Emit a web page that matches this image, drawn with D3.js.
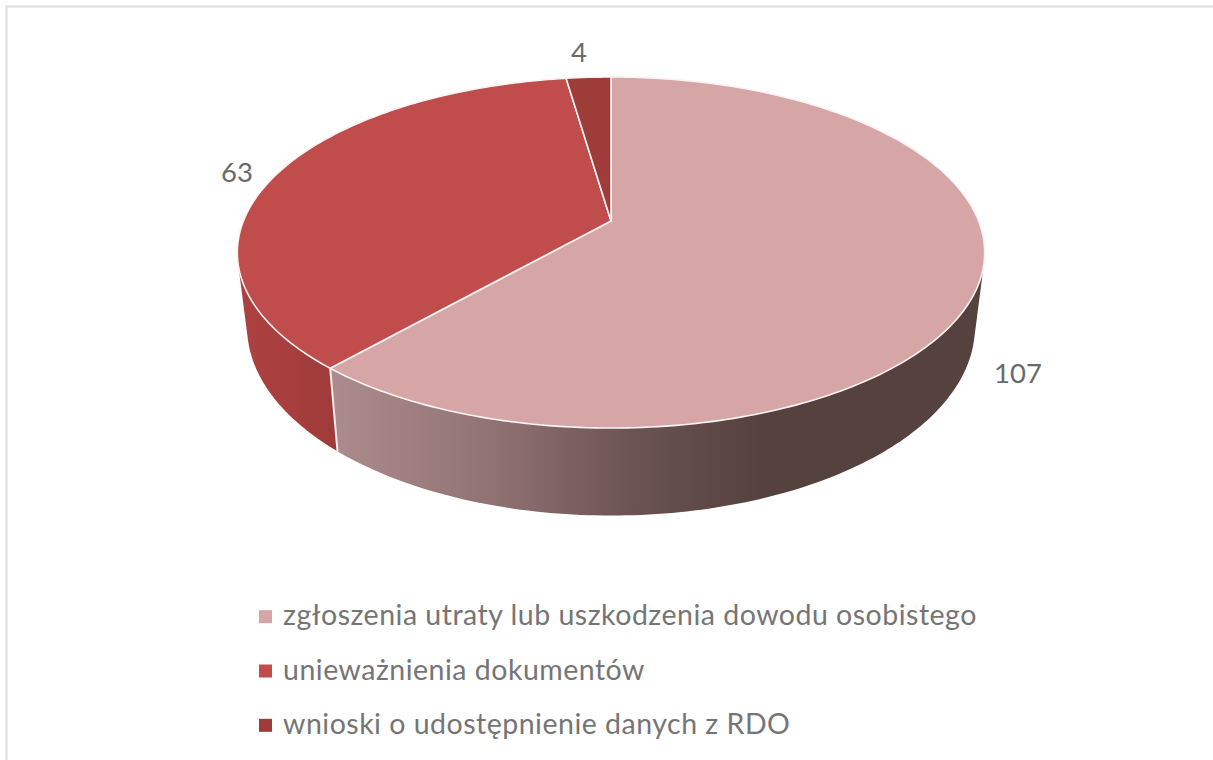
<!DOCTYPE html>
<html><head><meta charset="utf-8">
<script src="https://cdn.jsdelivr.net/npm/d3@7"></script>
<style>html,body{margin:0;padding:0;background:#fff;overflow:hidden}svg{display:block}</style>
</head><body><svg id="c" width="1213" height="760"></svg>
<script>
const categories = ["zgłoszenia utraty lub uszkodzenia dowodu osobistego","unieważnienia dokumentów","wnioski o udostępnienie danych z RDO"];
const values = [107, 63, 4];
const topColors = ["#d6a6a6","#c04c4b","#9e3c3a"];
const wallColors = ["url(#wallPink)","url(#wallRed)","#7a2e2c"];

const svg = d3.select("#c");
const FONT = "Lato, 'Noto Sans', sans-serif";
svg.append("rect").attr("x",6.5).attr("y",6.5).attr("width",1300).attr("height",900).attr("fill","#fff").attr("stroke","#e3e3e3").attr("stroke-width",2.5);

// Perspective projection of a unit disc on to the page
const K = -0.1795, CX = 611;
function project(theta, face){
  const x = Math.sin(theta), y = -Math.cos(theta), d = 1 + K*y;
  const p = face === "top" ? {sx:367.6,a:130.2,b:221} : {sx:358,a:130,b:293};
  return [CX + p.sx*x/d, (p.a*y + p.b)/d];
}
const arcs = d3.pie().value(d=>d).sort(null)(values);
const line = d3.line();
const STEP = Math.PI/180;
const arcPts = (s,e,face)=>d3.range(0,Math.ceil((e-s)/STEP)+1).map(i=>project(Math.min(s+i*STEP,e),face));

const defs = svg.append("defs");
function grad(id,x1,x2,stops){
  const g = defs.append("linearGradient").attr("id",id).attr("gradientUnits","userSpaceOnUse").attr("x1",x1).attr("x2",x2).attr("y1",0).attr("y2",0);
  stops.forEach(([o,c])=>g.append("stop").attr("offset",o).attr("stop-color",c));
}
grad("wallPink",335,760,[[0,"#ab8b8c"],[0.35,"#937474"],[0.7,"#6b5352"],[1,"#55423f"]]);
grad("wallRed",240,335,[[0,"#ad4241"],[1,"#9f3b39"]]);

// walls: only the front part of the rim is visible
const wallMin = Math.PI*0.3, wallMax = Math.PI*1.7;
const walls = svg.append("g");
arcs.forEach((a,i)=>{
  const s = Math.max(a.startAngle,wallMin), e = Math.min(a.endAngle,wallMax);
  if(e<=s) return;
  let d = "";
  for(let t=s;t<e;t+=STEP){
    const n = Math.min(t+STEP,e);
    const quad = [project(t,"top"),project(n,"top"),project(n,"bottom"),project(t,"bottom")];
    // keep one winding so that the quads beyond the silhouette do not cancel
    if(d3.polygonArea(quad)<0) quad.reverse();
    d += line(quad)+"Z";
  }
  walls.append("path").attr("d",d).attr("fill",wallColors[i]);
});
// white seam between the front walls
const seam = arcs[0].endAngle;
walls.append("path").attr("d",line([project(seam,"top"),project(seam,"bottom")])).attr("stroke","#f6eeee").attr("stroke-width",2).attr("fill","none");

// top face
const apex = [CX,221];
svg.append("g").selectAll("path").data(arcs).join("path")
  .attr("d",(a)=>line([apex,...arcPts(a.startAngle,a.endAngle,"top")])+"Z")
  .attr("fill",(a,i)=>topColors[i]).attr("stroke","#fbf3f3").attr("stroke-width",1.6).attr("stroke-linejoin","round");

// value labels
const labelPos = [[1018,383],[237,182],[579,62]];
svg.append("g").selectAll("text").data(values).join("text")
  .attr("x",(d,i)=>labelPos[i][0]).attr("y",(d,i)=>labelPos[i][1])
  .attr("text-anchor","middle").attr("font-family",FONT).attr("font-size",27.5).attr("fill","#6a6a6a").text(d=>d);

// legend
const legendY = d3.scaleBand().domain(categories).range([589,752]);
const lg = svg.append("g").selectAll("g").data(categories).join("g")
  .attr("transform",d=>`translate(259,${legendY(d)+legendY.bandwidth()/2})`);
lg.append("rect").attr("y",-6).attr("width",13).attr("height",13).attr("fill",(d,i)=>topColors[i]);
lg.append("text").attr("x",24).attr("y",9).attr("font-family",FONT).attr("font-size",28.5).attr("letter-spacing",0.5).attr("fill","#757575").text(d=>d);
</script></body></html>
